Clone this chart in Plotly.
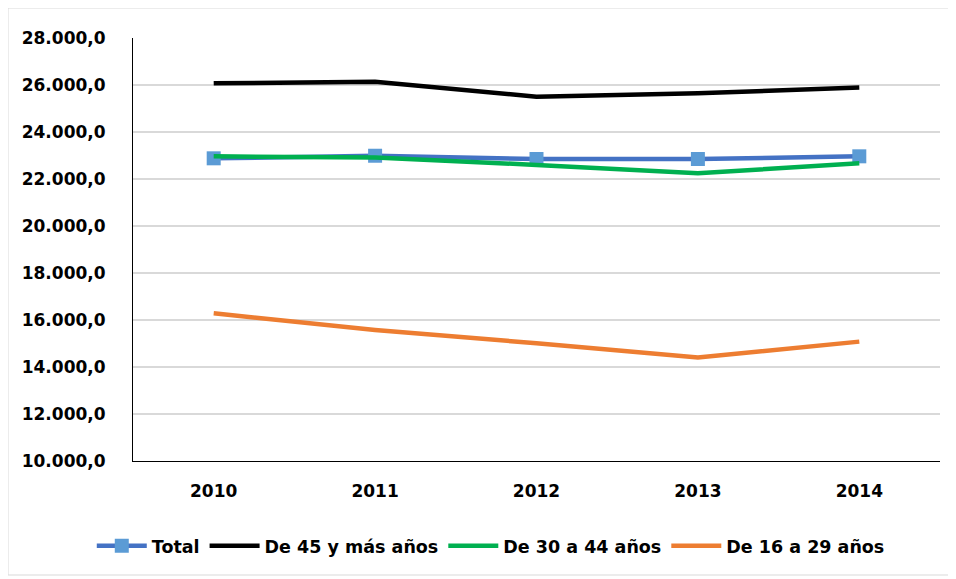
import plotly.graph_objects as go

years = ["2010", "2011", "2012", "2013", "2014"]
total = [22880, 22990, 22850, 22850, 22965]
de_45_mas = [26070, 26140, 25500, 25650, 25890]
de_30_44 = [22965, 22910, 22600, 22240, 22670]
de_16_29 = [16285, 15575, 15010, 14400, 15080]

FONT = "DejaVu Sans"

fig = go.Figure()
fig.add_trace(
    go.Scatter(
        x=years, y=total, name="Total", mode="lines+markers",
        line=dict(color="#4472c4", width=4.5),
        marker=dict(symbol="square", size=14, color="#5b9bd5"),
    )
)
fig.add_trace(
    go.Scatter(
        x=years, y=de_45_mas, name="De 45 y más años", mode="lines",
        line=dict(color="#000000", width=4.5),
    )
)
fig.add_trace(
    go.Scatter(
        x=years, y=de_30_44, name="De 30 a 44 años", mode="lines",
        line=dict(color="#00b050", width=4.5),
    )
)
fig.add_trace(
    go.Scatter(
        x=years, y=de_16_29, name="De 16 a 29 años", mode="lines",
        line=dict(color="#ed7d31", width=4.5),
    )
)

# page body has an 8px margin, so the plot area is placed 8px up/left
L, T, W, H = 125, 30, 807, 423

fig.update_layout(
    width=956,
    height=579,
    paper_bgcolor="white",
    plot_bgcolor="white",
    separators=",.",
    font=dict(family=FONT, size=17, color="#000000", weight="bold"),
    margin=dict(l=L, r=956 - L - W, t=T, b=579 - T - H),
    showlegend=True,
    legend=dict(
        orientation="h",
        xref="container", yref="container",
        x=0.505, y=0.071, xanchor="center", yanchor="middle",
        font=dict(family=FONT, size=17.5, weight="bold"),
        itemwidth=50,
    ),
    xaxis=dict(
        type="category",
        range=[-0.5, 4.5],
        showgrid=False,
        showline=True, linecolor="#000000", linewidth=1,
        ticks="", ticklabelstandoff=15,
        tickfont=dict(family=FONT, size=17, weight="bold"),
    ),
    yaxis=dict(
        range=[10000, 28000],
        dtick=2000,
        tickformat=",.1f",
        showgrid=True, gridcolor="#d9d9d9", gridwidth=1.5,
        showline=True, linecolor="#000000", linewidth=1,
        zeroline=False,
        ticks="", ticklabelstandoff=23,
        tickfont=dict(family=FONT, size=17, weight="bold"),
    ),
    shapes=[
        dict(
            type="rect", xref="paper", yref="paper",
            x0=(0 - L) / W, x1=(942 - L) / W,
            y0=(T + H - 567) / H, y1=(T + H - 0) / H,
            line=dict(color="#d9d9d9", width=1), layer="below",
        )
    ],
)

fig.write_html("out.html")
